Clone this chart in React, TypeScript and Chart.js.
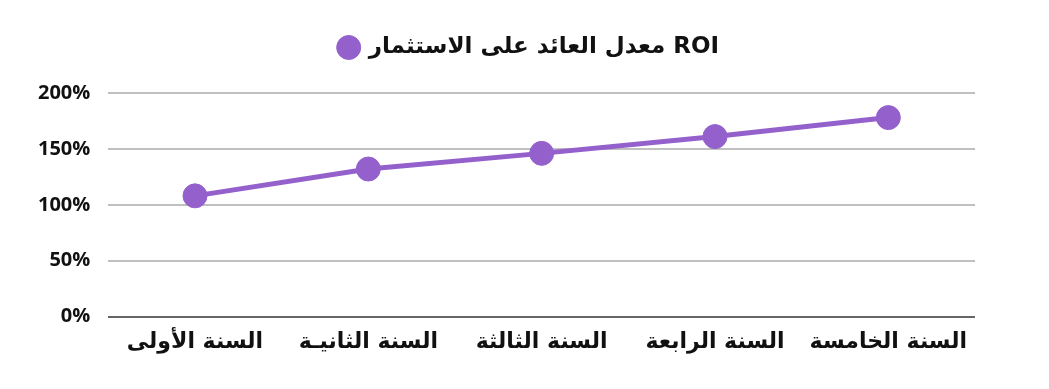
import React, { useEffect, useRef } from "react";
import { Chart, registerables } from "chart.js";

Chart.register(...registerables);

const categories = ["السنة الأولى", "السنة الثانيـة", "السنة الثالثة", "السنة الرابعة", "السنة الخامسة"];
const roiValues = [108, 132, 146, 161, 178];
const seriesLabel = "معدل العائد على الاستثمار ROI";
const yTicks = [0, 50, 100, 150, 200];

const PURPLE = "#9461cc";

const legendSpacer = {
  id: "legendSpacer",
  beforeInit(chart: any) {
    const legend = chart.legend;
    if (!legend) return;
    const origFit = legend.fit;
    legend.fit = function () {
      origFit.call(this);
      this.height += 24;
    };
  },
  afterLayout(chart: any) {
    const legend = chart.legend;
    if (!legend || !chart.chartArea) return;
    legend.left = chart.chartArea.left - 12;
    legend.right = chart.chartArea.right - 12;
    legend.width = legend.right - legend.left;
  },
};

export default function App() {
  const ref = useRef<HTMLCanvasElement | null>(null);
  useEffect(() => {
    if (!ref.current) return;
    const chart = new Chart(ref.current, {
      type: "line",
      data: {
        labels: categories,
        datasets: [
          {
            label: seriesLabel,
            data: roiValues,
            borderColor: PURPLE,
            backgroundColor: PURPLE,
            borderWidth: 5,
            pointRadius: 12,
            pointHoverRadius: 12,
            pointBackgroundColor: PURPLE,
            pointBorderColor: PURPLE,
            pointBorderWidth: 1,
            tension: 0,
          },
        ],
      },
      plugins: [legendSpacer],
      options: {
        responsive: true,
        maintainAspectRatio: false,
        animation: false,
        layout: { padding: { left: 12, right: 66, top: 2, bottom: 14 } },
        plugins: {
          legend: {
            display: true,
            position: "top",
            labels: {
              usePointStyle: true,
              pointStyle: "circle",
              boxWidth: 17,
              boxHeight: 17,
              padding: 26,
              color: "#111",
              font: { family: "'DejaVu Sans', sans-serif", size: 23, weight: "bold" },
            },
          },
          tooltip: { enabled: false },
        },
        scales: {
          x: {
            offset: true,
            grid: { display: false, drawTicks: false },
            border: { display: false },
            ticks: {
              color: "#111",
              padding: 12,
              maxRotation: 0,
              font: { family: "'DejaVu Sans', sans-serif", size: 22, weight: "bold" },
            },
          },
          y: {
            min: 0,
            max: 200,
            afterBuildTicks: (axis: any) => {
              axis.ticks = yTicks.map((v) => ({ value: v }));
            },
            grid: {
              color: (ctx: any) => (ctx.tick && ctx.tick.value === 0 ? "#666666" : "#c0c0c0"),
              lineWidth: 2,
              drawTicks: false,
            },
            border: { display: false },
            ticks: {
              color: "#111",
              padding: 18,
              callback: (v: any) => v + "%",
              font: { family: "'Open Sans', sans-serif", size: 20, weight: "bold" },
            },
          },
        },
      },
    });
    return () => chart.destroy();
  }, []);
  return (
    <div style={{ width: 1033, height: 373 }}>
      <canvas ref={ref} />
    </div>
  );
}
